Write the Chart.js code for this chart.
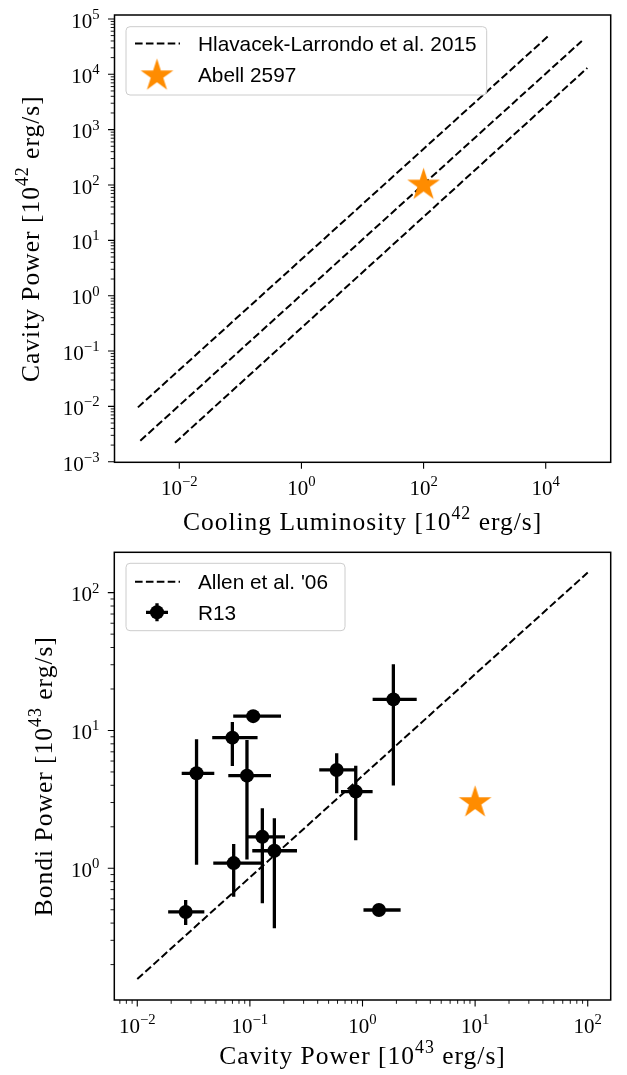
<!DOCTYPE html>
<html>
<head>
<meta charset="utf-8">
<script src="https://cdn.jsdelivr.net/npm/chart.js@4.4.1/dist/chart.umd.min.js"></script>
<style>
  html, body { margin: 0; padding: 0; background: #fff; }
  canvas { display: block; }
</style>
</head>
<body>
<canvas id="top" width="627" height="540"></canvas>
<canvas id="bottom" width="627" height="535"></canvas>
<script>
// ---- top panel: cavity power vs cooling luminosity ----
const hlUpperLcool = [2.1e-3, 1.1e4];
const hlUpperPcav = [9.6e-3, 4.9e4];
const hlMidLcool = [2.3e-3, 3.9e4];
const hlMidPcav = [2.4e-3, 4.0e4];
const hlLowerLcool = [8.5e-3, 4.8e4];
const hlLowerPcav = [2.2e-3, 1.3e4];
const a2597Lcool = [100];
const a2597PcavTop = [100];

const topXTicks = [1e-2, 1e0, 1e2, 1e4];
const topXTickExp = ["\u22122", "0", "2", "4"];
const topYTicks = [1e-3, 1e-2, 1e-1, 1e0, 1e1, 1e2, 1e3, 1e4, 1e5];
const topYTickExp = ["\u22123", "\u22122", "\u22121", "0", "1", "2", "3", "4", "5"];

// ---- bottom panel: Bondi power vs cavity power ----
const allenPcav = [0.01, 100];
const allenPbondi = [0.157, 140];

const r13Pcav = [0.0269, 0.0336, 0.0699, 0.0718, 0.0942, 0.107, 0.129, 0.165, 0.590, 0.871, 1.40, 1.88];
const r13PcavLo = [0.0188, 0.0248, 0.0463, 0.0473, 0.0643, 0.0711, 0.0938, 0.105, 0.413, 0.644, 1.02, 1.23];
const r13PcavHi = [0.0394, 0.0483, 0.117, 0.1315, 0.154, 0.189, 0.205, 0.262, 0.875, 1.23, 2.18, 3.03];
const r13Pbondi = [0.482, 4.89, 8.87, 1.09, 4.70, 12.7, 1.69, 1.34, 5.17, 3.60, 0.498, 16.8];
const r13PbondiLo = [0.388, 1.06, 5.53, 0.622, 1.16, 12.7, 0.557, 0.367, 3.50, 1.60, 0.498, 3.98];
const r13PbondiHi = [0.589, 8.63, 11.5, 1.50, 8.53, 12.7, 2.73, 2.31, 6.83, 5.55, 0.498, 30.2];

const a2597Pcav = [10];
const a2597Pbondi = [3];

const botXTicks = [1e-2, 1e-1, 1e0, 1e1, 1e2];
const botXTickExp = ["\u22122", "\u22121", "0", "1", "2"];
const botYTicks = [1e0, 1e1, 1e2];
const botYTickExp = ["0", "1", "2"];

const ORANGE = "#ff8c00";
const SERIF = '"Liberation Serif", "DejaVu Serif", serif';
const SANS = '"Liberation Sans", "DejaVu Sans", sans-serif';
const DASH = [7.6, 3.3];

const pts = (xs, ys) => xs.map((x, i) => ({ x: x, y: ys[i] }));

// filled five-point star, centred on its circumcircle like matplotlib's '*'
function makeStar(r) {
    const size = Math.ceil(r * 2 + 2);
    const c = document.createElement("canvas");
    c.width = c.height = size;
    const g = c.getContext("2d");
    g.fillStyle = ORANGE;
    g.beginPath();
    for (let i = 0; i < 10; i++) {
        const rad = i % 2 === 0 ? r : r * 0.381966;
        const a = -Math.PI / 2 + (i * Math.PI) / 5;
        g.lineTo(size / 2 + rad * Math.cos(a), size / 2 + rad * Math.sin(a));
    }
    g.closePath();
    g.fill();
    return c;
}
const starImg = makeStar(17.2);

function drawRich(ctx, parts, x, y, size, family, align) {
    const pieces = parts.map(p => {
        const s = p.sup ? size * 0.7 : size;
        ctx.font = `${s}px ${family}`;
        return { t: p.t, s: s, sup: !!p.sup, w: ctx.measureText(p.t).width };
    });
    const total = pieces.reduce((a, p) => a + p.w, 0);
    let cx = align === "center" ? x - total / 2 : align === "right" ? x - total : x;
    ctx.textAlign = "left";
    ctx.textBaseline = "alphabetic";
    for (const p of pieces) {
        ctx.font = `${p.s}px ${family}`;
        ctx.fillText(p.t, cx, p.sup ? y - size * 0.42 : y);
        cx += p.w;
    }
}

function roundRect(ctx, x, y, w, h, r) {
    ctx.beginPath();
    ctx.moveTo(x + r, y);
    ctx.arcTo(x + w, y, x + w, y + h, r);
    ctx.arcTo(x + w, y + h, x, y + h, r);
    ctx.arcTo(x, y + h, x, y, r);
    ctx.arcTo(x, y, x + w, y, r);
    ctx.closePath();
}

function minorValues(scale) {
    const out = [];
    const lo = Math.floor(Math.log10(scale.min));
    const hi = Math.ceil(Math.log10(scale.max));
    for (let d = lo; d <= hi; d++) {
        for (let k = 2; k <= 9; k++) {
            const v = k * Math.pow(10, d);
            if (v >= scale.min && v <= scale.max) out.push(v);
        }
    }
    return out;
}

function dashedSample(ctx, x0, x1, y) {
    ctx.save();
    ctx.strokeStyle = "#000";
    ctx.lineWidth = 2;
    ctx.setLineDash(DASH);
    ctx.beginPath();
    ctx.moveTo(x0, y);
    ctx.lineTo(x1, y);
    ctx.stroke();
    ctx.restore();
}

function errorSymbol(ctx, x, y) {
    ctx.save();
    ctx.strokeStyle = "#000";
    ctx.fillStyle = "#000";
    ctx.lineWidth = 3.3;
    ctx.beginPath();
    ctx.moveTo(x - 11, y);
    ctx.lineTo(x + 11, y);
    ctx.moveTo(x, y - 9);
    ctx.lineTo(x, y + 9);
    ctx.stroke();
    ctx.beginPath();
    ctx.arc(x, y, 7, 0, Math.PI * 2);
    ctx.fill();
    ctx.restore();
}

// frame, log ticks, labels, axis titles and legend for one panel
function makeDecor(cfg) {
    return {
        id: "decor",
        afterDatasetDraw(chart, args) {
            const ds = chart.data.datasets[args.index];
            if (!ds.errorBars) return;
            const eb = ds.errorBars;
            const xs = chart.scales.x, ys = chart.scales.y;
            const ctx = chart.ctx, area = chart.chartArea;
            ctx.save();
            ctx.beginPath();
            ctx.rect(area.left, area.top, area.right - area.left, area.bottom - area.top);
            ctx.clip();
            ctx.strokeStyle = "#000";
            ctx.lineWidth = 3.3;
            ctx.beginPath();
            ds.data.forEach((p, i) => {
                const px = xs.getPixelForValue(p.x), py = ys.getPixelForValue(p.y);
                ctx.moveTo(xs.getPixelForValue(eb.xLo[i]), py);
                ctx.lineTo(xs.getPixelForValue(eb.xHi[i]), py);
                ctx.moveTo(px, ys.getPixelForValue(eb.yLo[i]));
                ctx.lineTo(px, ys.getPixelForValue(eb.yHi[i]));
            });
            ctx.stroke();
            ctx.restore();
        },
        afterDraw(chart) {
            const ctx = chart.ctx, a = chart.chartArea;
            const xs = chart.scales.x, ys = chart.scales.y;
            ctx.save();

            // legend box
            const L = cfg.legend;
            roundRect(ctx, L.x, L.y, L.w, L.h, 4);
            ctx.fillStyle = "rgba(255,255,255,0.8)";
            ctx.fill();
            ctx.strokeStyle = "#cccccc";
            ctx.lineWidth = 1;
            ctx.stroke();
            ctx.fillStyle = "#000";
            L.items.forEach(it => {
                if (it.kind === "dash") dashedSample(ctx, L.x + 9, L.x + 54, it.y);
                if (it.kind === "star") ctx.drawImage(starImg, L.x + 31 - starImg.width / 2, it.y + 1.5 - starImg.height / 2);
                if (it.kind === "err") errorSymbol(ctx, L.x + 31, it.y);
                ctx.fillStyle = "#000";
                ctx.font = `20.8px ${SANS}`;
                ctx.textAlign = "left";
                ctx.textBaseline = "alphabetic";
                ctx.fillText(it.label, L.x + 72, it.y + 7.6);
            });

            // frame
            ctx.strokeStyle = "#000";
            ctx.lineWidth = 1.5;
            ctx.strokeRect(a.left, a.top, a.right - a.left, a.bottom - a.top);

            // ticks
            ctx.lineWidth = 1.1;
            ctx.beginPath();
            cfg.xTicks.forEach(v => {
                const px = xs.getPixelForValue(v);
                ctx.moveTo(px, a.bottom);
                ctx.lineTo(px, a.bottom + 6.5);
            });
            cfg.yTicks.forEach(v => {
                const py = ys.getPixelForValue(v);
                ctx.moveTo(a.left, py);
                ctx.lineTo(a.left - 6.5, py);
            });
            ctx.stroke();
            ctx.lineWidth = 0.9;
            ctx.beginPath();
            if (cfg.xMinor) minorValues(xs).forEach(v => {
                const px = xs.getPixelForValue(v);
                ctx.moveTo(px, a.bottom);
                ctx.lineTo(px, a.bottom + 3.8);
            });
            if (cfg.yMinor) minorValues(ys).forEach(v => {
                const py = ys.getPixelForValue(v);
                ctx.moveTo(a.left, py);
                ctx.lineTo(a.left - 3.8, py);
            });
            ctx.stroke();

            // tick labels
            ctx.fillStyle = "#000";
            cfg.xTicks.forEach((v, i) => {
                drawRich(ctx, [{ t: "10" }, { t: cfg.xExp[i], sup: true }],
                    xs.getPixelForValue(v), a.bottom + 32.5, 21, SERIF, "center");
            });
            cfg.yTicks.forEach((v, i) => {
                drawRich(ctx, [{ t: "10" }, { t: cfg.yExp[i], sup: true }],
                    a.left - 15, ys.getPixelForValue(v) + 8.8, 21, SERIF, "right");
            });

            // axis titles
            ctx.letterSpacing = "1px";
            drawRich(ctx, cfg.xTitle, (a.left + a.right) / 2, a.bottom + cfg.xTitleGap, 25.5, SERIF, "center");
            ctx.save();
            ctx.translate(cfg.yTitleX, (a.top + a.bottom) / 2);
            ctx.rotate(-Math.PI / 2);
            drawRich(ctx, cfg.yTitle, 0, 0, 25.5, SERIF, "center");
            ctx.restore();
            ctx.letterSpacing = "0px";
            ctx.restore();
        }
    };
}

function dashedLine(xs, ys) {
    return {
        data: pts(xs, ys),
        showLine: true,
        borderColor: "#000",
        borderWidth: 2,
        borderDash: DASH,
        pointRadius: 0,
        order: 3
    };
}

function logAxis(min, max) {
    return { type: "logarithmic", min: min, max: max, bounds: "data", display: false };
}

const common = {
    responsive: false,
    animation: false,
    events: [],
    plugins: { legend: { display: false }, tooltip: { enabled: false } }
};

new Chart(document.getElementById("top"), {
    type: "scatter",
    data: {
        datasets: [
            dashedLine(hlUpperLcool, hlUpperPcav),
            dashedLine(hlMidLcool, hlMidPcav),
            dashedLine(hlLowerLcool, hlLowerPcav),
            {
                data: pts(a2597Lcool, a2597PcavTop),
                pointStyle: starImg,
                pointRadius: 10,
                order: 1
            }
        ]
    },
    options: {
        ...common,
        layout: { padding: { left: 114.5, top: 15, right: 16.3, bottom: 77.7 } },
        scales: {
            x: logAxis(Math.pow(10, -3.061), Math.pow(10, 5.064)),
            y: logAxis(Math.pow(10, -3.01), Math.pow(10, 5.071))
        }
    },
    plugins: [makeDecor({
        xTicks: topXTicks, xExp: topXTickExp, xMinor: false,
        yTicks: topYTicks, yExp: topYTickExp, yMinor: true,
        xTitle: [{ t: "Cooling Luminosity [10" }, { t: "42", sup: true }, { t: " erg/s]" }],
        yTitle: [{ t: "Cavity Power [10" }, { t: "42", sup: true }, { t: " erg/s]" }],
        xTitleGap: 67.5, yTitleX: 39,
        legend: {
            x: 126, y: 26.7, w: 360.7, h: 68.3,
            items: [
                { kind: "dash", y: 43.5, label: "Hlavacek-Larrondo et al. 2015" },
                { kind: "star", y: 74.2, label: "Abell 2597" }
            ]
        }
    })]
});

new Chart(document.getElementById("bottom"), {
    type: "scatter",
    data: {
        datasets: [
            dashedLine(allenPcav, allenPbondi),
            {
                data: pts(r13Pcav, r13Pbondi),
                backgroundColor: "#000",
                borderWidth: 0,
                pointRadius: 7,
                order: 2,
                errorBars: { xLo: r13PcavLo, xHi: r13PcavHi, yLo: r13PbondiLo, yHi: r13PbondiHi }
            },
            {
                data: pts(a2597Pcav, a2597Pbondi),
                pointStyle: starImg,
                pointRadius: 10,
                order: 1
            }
        ]
    },
    options: {
        ...common,
        layout: { padding: { left: 114.3, top: 12.3, right: 16.3, bottom: 75 } },
        scales: {
            x: logAxis(Math.pow(10, -2.204), Math.pow(10, 2.204)),
            y: logAxis(Math.pow(10, -0.956), Math.pow(10, 2.293))
        }
    },
    plugins: [makeDecor({
        xTicks: botXTicks, xExp: botXTickExp, xMinor: true,
        yTicks: botYTicks, yExp: botYTickExp, yMinor: true,
        xTitle: [{ t: "Cavity Power [10" }, { t: "43", sup: true }, { t: " erg/s]" }],
        yTitle: [{ t: "Bondi Power [10" }, { t: "43", sup: true }, { t: " erg/s]" }],
        xTitleGap: 63.5, yTitleX: 52,
        legend: {
            x: 126, y: 23.3, w: 219, h: 67.4,
            items: [
                { kind: "dash", y: 41.8, label: "Allen et al. '06" },
                { kind: "err", y: 72.3, label: "R13" }
            ]
        }
    })]
});
</script>
</body>
</html>
